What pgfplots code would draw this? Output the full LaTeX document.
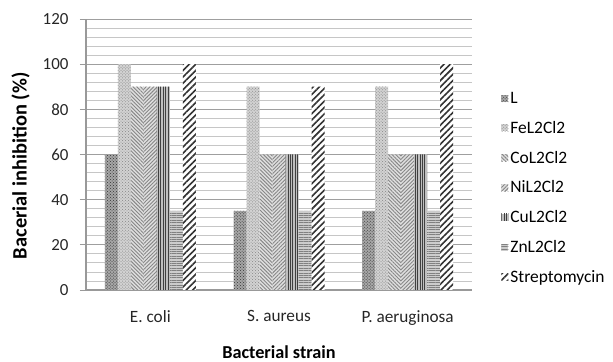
\documentclass[border=0pt]{standalone}
\usepackage{fontspec}
\setmainfont{Carlito}
\usepackage{pgfplots}
\pgfplotsset{compat=1.18}
\usetikzlibrary{patterns,patterns.meta}

\pgfplotstableread{
x L Fe Co Ni Cu Zn St
0 60 100 90 90 90 35 100
1 35 90 60 60 60 35 90
2 35 90 60 60 60 35 100
}\inhib

\begin{document}
\begin{tikzpicture}
\begin{axis}[
  at={(0,0)}, anchor=south west,
  scale only axis,
  width=386bp, height=271bp,
  ybar=0pt, bar width=13bp,
  xmin=-0.5, xmax=2.5,
  ymin=0, ymax=120,
  ytick={0,20,...,120},
  minor y tick num=4,
  xtick=data,
  xticklabels={E. coli, S. aureus, P. aeruginosa},
  axis x line*=bottom, axis y line*=left,
  axis line style={gray!80, line width=1.1bp},
  ymajorgrids, yminorgrids,
  major grid style={gray!75, line width=0.9bp},
  minor grid style={gray!45, line width=0.8bp},
  tick align=outside,
  major tick length=6bp, minor tick length=0pt,
  ytick style={gray!80, line width=0.9bp},
  xtick style={draw=none},
  /pgf/number format/assume math mode=true,
  xticklabel style={font=\fontsize{17.3}{20}\selectfont, text=black!85, yshift=-11bp},
  yticklabel style={font=\fontsize{17}{20}\selectfont, text=black!85, xshift=-8bp},
  xlabel={\textbf{Bacterial strain}},
  ylabel={\textbf{Bacerial inhibition (\%)}},
  xlabel style={font=\fontsize{18.3}{21}\selectfont, at={(axis description cs:0.5,0)}, anchor=center, yshift=-62bp},
  ylabel style={font=\fontsize{20.5}{23}\selectfont, at={(axis description cs:0,0.458)}, anchor=center, yshift=65.5bp},
  legend image code/.code={\path[#1] (0bp,-3.5bp) rectangle (7bp,3.5bp);},
  legend style={draw=none, fill=none, at={(rel axis cs:1.068,0.745)}, anchor=north west,
    font=\fontsize{17.5}{20}\selectfont, row sep=12.2bp,
    cells={anchor=west}},
]
\addplot[draw=none, preaction={fill=gray!70}, pattern=crosshatch dots, pattern color=black!80]
  table[x=x, y=L] {\inhib};
\addplot[draw=none, preaction={fill=gray!35}, pattern=crosshatch dots, pattern color=gray!95]
  table[x=x, y=Fe] {\inhib};
\addplot[draw=none, preaction={fill=gray!25}, pattern={Lines[angle=-45, distance=2.6bp, line width=0.9bp]}, pattern color=gray!95]
  table[x=x, y=Co] {\inhib};
\addplot[draw=none, preaction={fill=gray!25}, pattern={Lines[angle=45, distance=2.6bp, line width=0.9bp]}, pattern color=gray!95]
  table[x=x, y=Ni] {\inhib};
\addplot[draw=none, preaction={fill=gray!50}, pattern={Lines[angle=90, distance=2.4bp, line width=0.9bp]}, pattern color=black!75]
  table[x=x, y=Cu] {\inhib};
\addplot[draw=none, preaction={fill=gray!40}, pattern={Lines[angle=0, distance=2.4bp, line width=0.9bp]}, pattern color=gray!100]
  table[x=x, y=Zn] {\inhib};
\addplot[draw=none, preaction={fill=white}, pattern={Lines[angle=45, distance=4.5bp, line width=1.6bp]}, pattern color=black!80]
  table[x=x, y=St] {\inhib};
\legend{L, FeL2Cl2, CoL2Cl2, NiL2Cl2, CuL2Cl2, ZnL2Cl2, Streptomycin}
\end{axis}
\path[use as bounding box] (-86bp,-70bp) rectangle (527bp,290bp);
\end{tikzpicture}
\end{document}
